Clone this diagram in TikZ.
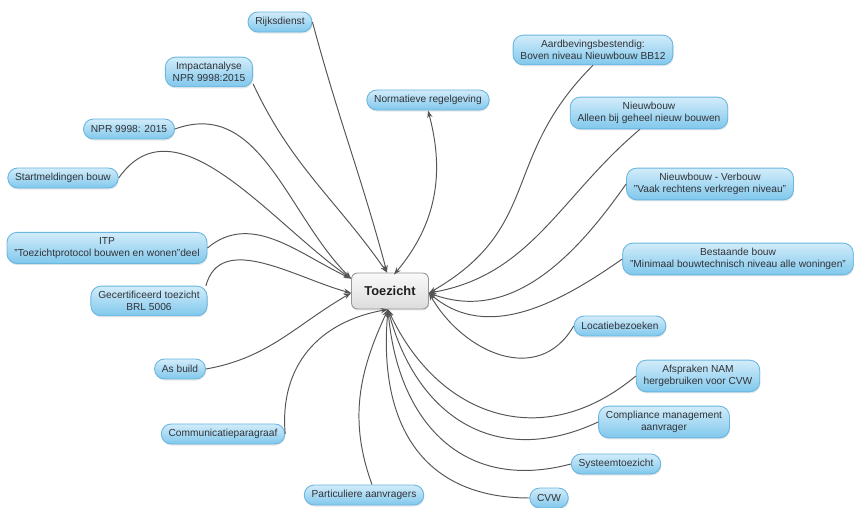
\documentclass[tikz,border=0pt]{standalone}
\usepackage{fontspec}
\setmainfont{Liberation Sans}
\usetikzlibrary{arrows.meta, shadows}

\definecolor{bubtop}{RGB}{210,236,250}
\definecolor{bubbot}{RGB}{128,200,236}
\definecolor{bubline}{RGB}{105,182,224}
\definecolor{hubtop}{RGB}{250,250,250}
\definecolor{hubbot}{RGB}{220,220,220}
\definecolor{hubline}{RGB}{150,150,150}
\definecolor{linkgray}{RGB}{85,85,85}
\definecolor{labelgray}{RGB}{50,50,55}

\begin{document}
\begin{tikzpicture}[x=0.02cm, y=0.02cm,
	>={Stealth[length=4.2pt, width=3pt]},
	bubble/.style={draw=bubline, line width=0.5pt, rounded corners=2mm,
		top color=bubtop, bottom color=bubbot,
		drop shadow={opacity=0.18, shadow xshift=0.4pt, shadow yshift=-0.9pt},
		align=center, text=labelgray, font=\fontsize{5.8}{6.6}\selectfont,
		inner xsep=4.2pt, inner ysep=3pt, minimum height=4mm},
	hub/.style={draw=hubline, line width=0.5pt, rounded corners=1.2mm,
		top color=hubtop, bottom color=hubbot,
		drop shadow={opacity=0.15, shadow xshift=0.4pt, shadow yshift=-0.9pt},
		minimum width=1.54cm, minimum height=0.72cm,
		text={rgb,255:red,30;green,30;blue,30},
		font=\bfseries\fontsize{7.3}{8}\selectfont},
	link/.style={->, draw=linkgray, line width=0.55pt}]
	% frame of the picture (1 unit = 1 pixel of the 854 x 507 page)
	\useasboundingbox (0,0) rectangle (854,507);
	% central topic
	\node[hub] (toezicht) at (390,216) {Toezicht};
	\coordinate (tzT) at ([xshift=-0.06cm]toezicht.north);
	\coordinate (tzN) at ([xshift=0.08cm, yshift=-0.04cm]toezicht.north);
	\coordinate (tzTL) at ([yshift=-0.12cm]toezicht.north west);
	\coordinate (tzL) at ([yshift=-0.04cm]toezicht.west);
	\coordinate (tzB) at ([xshift=-0.04cm]toezicht.south);
	\coordinate (tzR) at ([yshift=-0.04cm]toezicht.east);
	% topics on the left and at the top
	\node[bubble] (rijks) at (280,485) {Rijksdienst};
	\node[bubble] (impact) at (209,435) {Impactanalyse\\NPR 9998:2015};
	\node[bubble] (normatief) at (428,407) {Normatieve regelgeving};
	\node[bubble] (npr) at (129,378) {NPR 9998: 2015};
	\node[bubble] (start) at (63,329) {Startmeldingen bouw};
	\node[bubble] (itp) at (107,259) {ITP\\"Toezichtprotocol bouwen en wonen"deel};
	\node[bubble] (gecert) at (149,206) {Gecertificeerd toezicht\\BRL 5006};
	\node[bubble] (asbuild) at (180,138) {As build};
	\node[bubble] (comm) at (223,73) {Communicatieparagraaf};
	\node[bubble] (partic) at (364,12) {Particuliere aanvragers};
	% topics on the right
	\node[bubble] (aardbev) at (593,457) {Aardbevingsbestendig:\\Boven niveau Nieuwbouw BB12};
	\node[bubble] (nieuwb) at (649,394) {Nieuwbouw\\Alleen bij geheel nieuw bouwen};
	\node[bubble] (verbouw) at (710,323) {Nieuwbouw - Verbouw\\"Vaak rechtens verkregen niveau"};
	\node[bubble] (bestaand) at (738,248) {Bestaande bouw\\"Minimaal bouwtechnisch niveau alle woningen"};
	\node[bubble] (locatie) at (620,181) {Locatiebezoeken};
	\node[bubble] (nam) at (698,131) {Afspraken NAM\\hergebruiken voor CVW};
	\node[bubble] (compl) at (664,85) {Compliance management\\aanvrager};
	\node[bubble] (systeem) at (616,43) {Systeemtoezicht};
	\node[bubble] (cvw) at (549,9) {CVW};
	% links into the top and the left of the hub
	\draw[link] (rijks.east) to[out=-75, in=105] (tzT);
	\draw[link] (impact.-15) to[out=-65, in=125] (tzT);
	\draw[link] (npr.east) to[out=20, in=135] (tzTL);
	\draw[link] (start.east) to[out=55, in=145] (tzTL);
	\draw[link] (itp.east) to[out=40, in=155] (tzTL);
	\draw[link] (gecert.15) to[out=75, in=165] (tzL);
	\draw[link] (asbuild.east) to[out=10, in=-150] (tzL);
	\draw[link, <->] (tzN) to[out=50, in=-75] (normatief.south);
	% links into the bottom of the hub
	\draw[link] (comm.east) to[out=95, in=-170, looseness=1.1] (tzB);
	\draw[link] ([xshift=1.6mm]partic.north) to[out=110, in=-115] (tzB);
	\draw[link] (cvw.west) to[out=180, in=-95, looseness=1.2] (tzB);
	\draw[link] (systeem.west) to[out=-165, in=-85, looseness=1.2] (tzB);
	\draw[link] (compl.west) to[out=-155, in=-75, looseness=1.2] (tzB);
	\draw[link] (nam.west) to[out=-140, in=-65, looseness=1.2] (tzB);
	% links into the right of the hub
	\draw[link] (locatie.west) to[out=-120, in=-60, looseness=1.2] (tzR);
	\draw[link] (bestaand.west) to[out=-145, in=-40] (tzR);
	\draw[link] (verbouw.west) to[out=-125, in=-20] (tzR);
	\draw[link] ([xshift=-1.8mm]nieuwb.south) to[out=-140, in=10] (tzR);
	\draw[link] (aardbev.south) to[out=-135, in=30, looseness=1.2] (tzR);
\end{tikzpicture}
\end{document}
